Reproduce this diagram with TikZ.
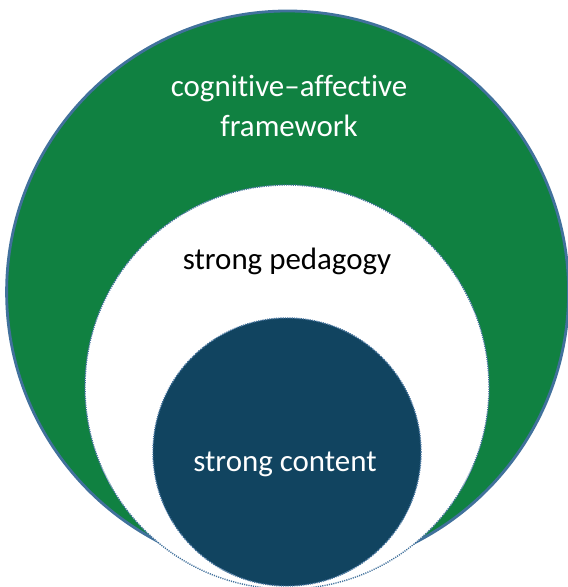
\documentclass[tikz,border=0pt]{standalone}
\usepackage{fontspec}
\setmainfont{Carlito}[Ligatures={TeX,NoCommon}]
\definecolor{frameGreen}{RGB}{16,129,65}
\definecolor{rimBlue}{RGB}{65,113,156}
\definecolor{coreBlue}{RGB}{17,68,96}

\begin{document}
\begin{tikzpicture}[every node/.style={font=\fontsize{22}{28.3}\selectfont}, ring/.style={circle, inner sep=0pt}, dotrim/.style={draw=rimBlue, dash pattern=on 0.8pt off 0.8pt, line width=1pt}]
	\useasboundingbox (0,0) rectangle (14.175,-14.675);
	\node[ring, fill=frameGreen, draw=rimBlue, line width=2pt, minimum size=14.05cm] (framework) at (7.19,-7.3) {};
	\node[ring, fill=white, dotrim, minimum size=10.1cm] (pedagogy) at (7.175,-9.675) {};
	\node[ring, fill=coreBlue, dotrim, minimum size=6.7cm] (content) at (7.175,-11.3) {};
	\node[white, align=center] (frameLabel) at (7.225,-2.65) {cognitive–affective\\framework};
	\node[black, anchor=base] (pedLabel) at (7.175,-6.725) {strong pedagogy};
	\node[white, anchor=base] (contentLabel) at (7.125,-11.775) {strong content};
	
\end{tikzpicture}
\end{document}
